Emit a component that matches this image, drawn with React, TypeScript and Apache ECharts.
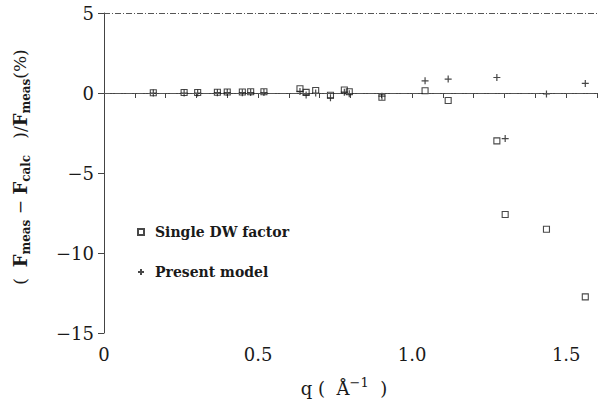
import React, { useEffect, useRef } from "react";
import * as echarts from "echarts";

const qValues = [0.160, 0.260, 0.304, 0.368, 0.400, 0.449, 0.476, 0.519, 0.636, 0.656, 0.687, 0.735, 0.780, 0.796, 0.902, 1.042, 1.117, 1.275, 1.302, 1.436, 1.562];
const singleDW = [0.02, 0.03, 0.03, 0.05, 0.06, 0.06, 0.08, 0.08, 0.27, 0.04, 0.16, -0.14, 0.19, 0.08, -0.27, 0.14, -0.47, -2.99, -7.59, -8.52, -12.74];
const presentModel = [0.0, 0.0, 0.0, 0.02, 0.03, 0.02, 0.03, 0.03, 0.1, -0.12, 0.0, -0.3, 0.05, -0.05, -0.2, 0.76, 0.87, 0.97, -2.85, -0.06, 0.6];
const seriesNames = ["Single DW factor", "Present model"];

const FONT = "DejaVu Serif";
const INK = "#1a1a1a";

export default function App() {
  const ref = useRef<HTMLDivElement>(null);
  useEffect(() => {
    if (!ref.current) return;
    const chart = echarts.init(ref.current, undefined, { renderer: "svg" });
    const plusPath = "path://M5,0L5,10M0,5L10,5";
    chart.setOption({
      animation: false,
      backgroundColor: "#fff",
      grid: { left: 104, top: 13, width: 499, height: 320 },
      legend: {
        orient: "vertical",
        left: 132,
        top: 218,
        itemGap: 22,
        itemWidth: 6,
        itemHeight: 6,
        data: seriesNames,
        textStyle: { fontFamily: FONT, fontWeight: "bold", fontSize: 14, color: INK, padding: [0, 0, 0, 6], lineHeight: 18 },
      },
      xAxis: {
        type: "value",
        min: 0,
        max: 1.6,
        interval: 0.1,
        axisLine: { lineStyle: { color: "#444", width: 1 } },
        axisTick: { show: true, inside: false, length: 5, lineStyle: { color: "#444" } },
        splitLine: { show: false },
        axisLabel: {
          fontFamily: FONT,
          fontSize: 18,
          color: INK,
          margin: 12,
          formatter: (v: number) => {
            const t = Math.round(v * 10);
            if (t % 5 !== 0) return "";
            return t === 0 ? "0" : v.toFixed(1);
          },
        },
      },
      yAxis: {
        type: "value",
        min: -15,
        max: 5,
        interval: 5,
        axisLine: { show: true, lineStyle: { color: "#444", width: 1 } },
        axisTick: { show: true, length: 6, lineStyle: { color: "#444" } },
        splitLine: { show: false },
        axisLabel: {
          fontFamily: FONT,
          fontSize: 18,
          color: INK,
          margin: 10,
          formatter: (v: number) => (v < 0 ? "\u2212" + Math.abs(v) : String(v)),
        },
      },
      series: [
        {
          name: seriesNames[1],
          type: "scatter",
          symbol: plusPath,
          symbolSize: 7,
          itemStyle: { color: "transparent", borderColor: INK, borderWidth: 1.2 },
          data: qValues.map((q, i) => [q, presentModel[i]]),
          markLine: {
            silent: true,
            symbol: "none",
            label: { show: false },
            lineStyle: { color: "#555", width: 1, type: [6, 2, 1, 2] },
            data: [{ yAxis: 0 }, { yAxis: 5 }],
          },
          z: 3,
        },
        {
          name: seriesNames[0],
          type: "scatter",
          symbol: "rect",
          symbolSize: 6,
          itemStyle: { color: "transparent", borderColor: INK, borderWidth: 1.1 },
          data: qValues.map((q, i) => [q, singleDW[i]]),
          z: 4,
        },
      ],
      graphic: [
        {
          type: "text",
          x: 20,
          y: 167,
          rotation: Math.PI / 2,
          style: {
            text: "(  {b|F}{s|meas} \u2212 {b|F}{s|calc}   )/{b|F}{s|meas}(%)",
            align: "center",
            verticalAlign: "middle",
            fontFamily: FONT,
            fontSize: 17,
            lineHeight: 24,
            fill: INK,
            rich: {
              b: { fontFamily: FONT, fontSize: 18, fontWeight: "bold", lineHeight: 24, fill: INK },
              s: { fontFamily: FONT, fontSize: 12, fontWeight: "bold", verticalAlign: "bottom", lineHeight: 12, fill: INK },
            },
          },
        },
        {
          type: "text",
          x: 344,
          y: 388,
          style: {
            text: "q (  \u00c5{p|\u22121}  )",
            align: "center",
            verticalAlign: "middle",
            fontFamily: FONT,
            fontSize: 18,
            lineHeight: 24,
            fill: INK,
            rich: {
              p: { fontFamily: FONT, fontSize: 13, verticalAlign: "top", lineHeight: 12, fill: INK },
            },
          },
        },
      ],
    });
    return () => chart.dispose();
  }, []);
  return <div ref={ref} style={{ position: "fixed", left: 0, top: 0, width: 600, height: 406 }} />;
}
